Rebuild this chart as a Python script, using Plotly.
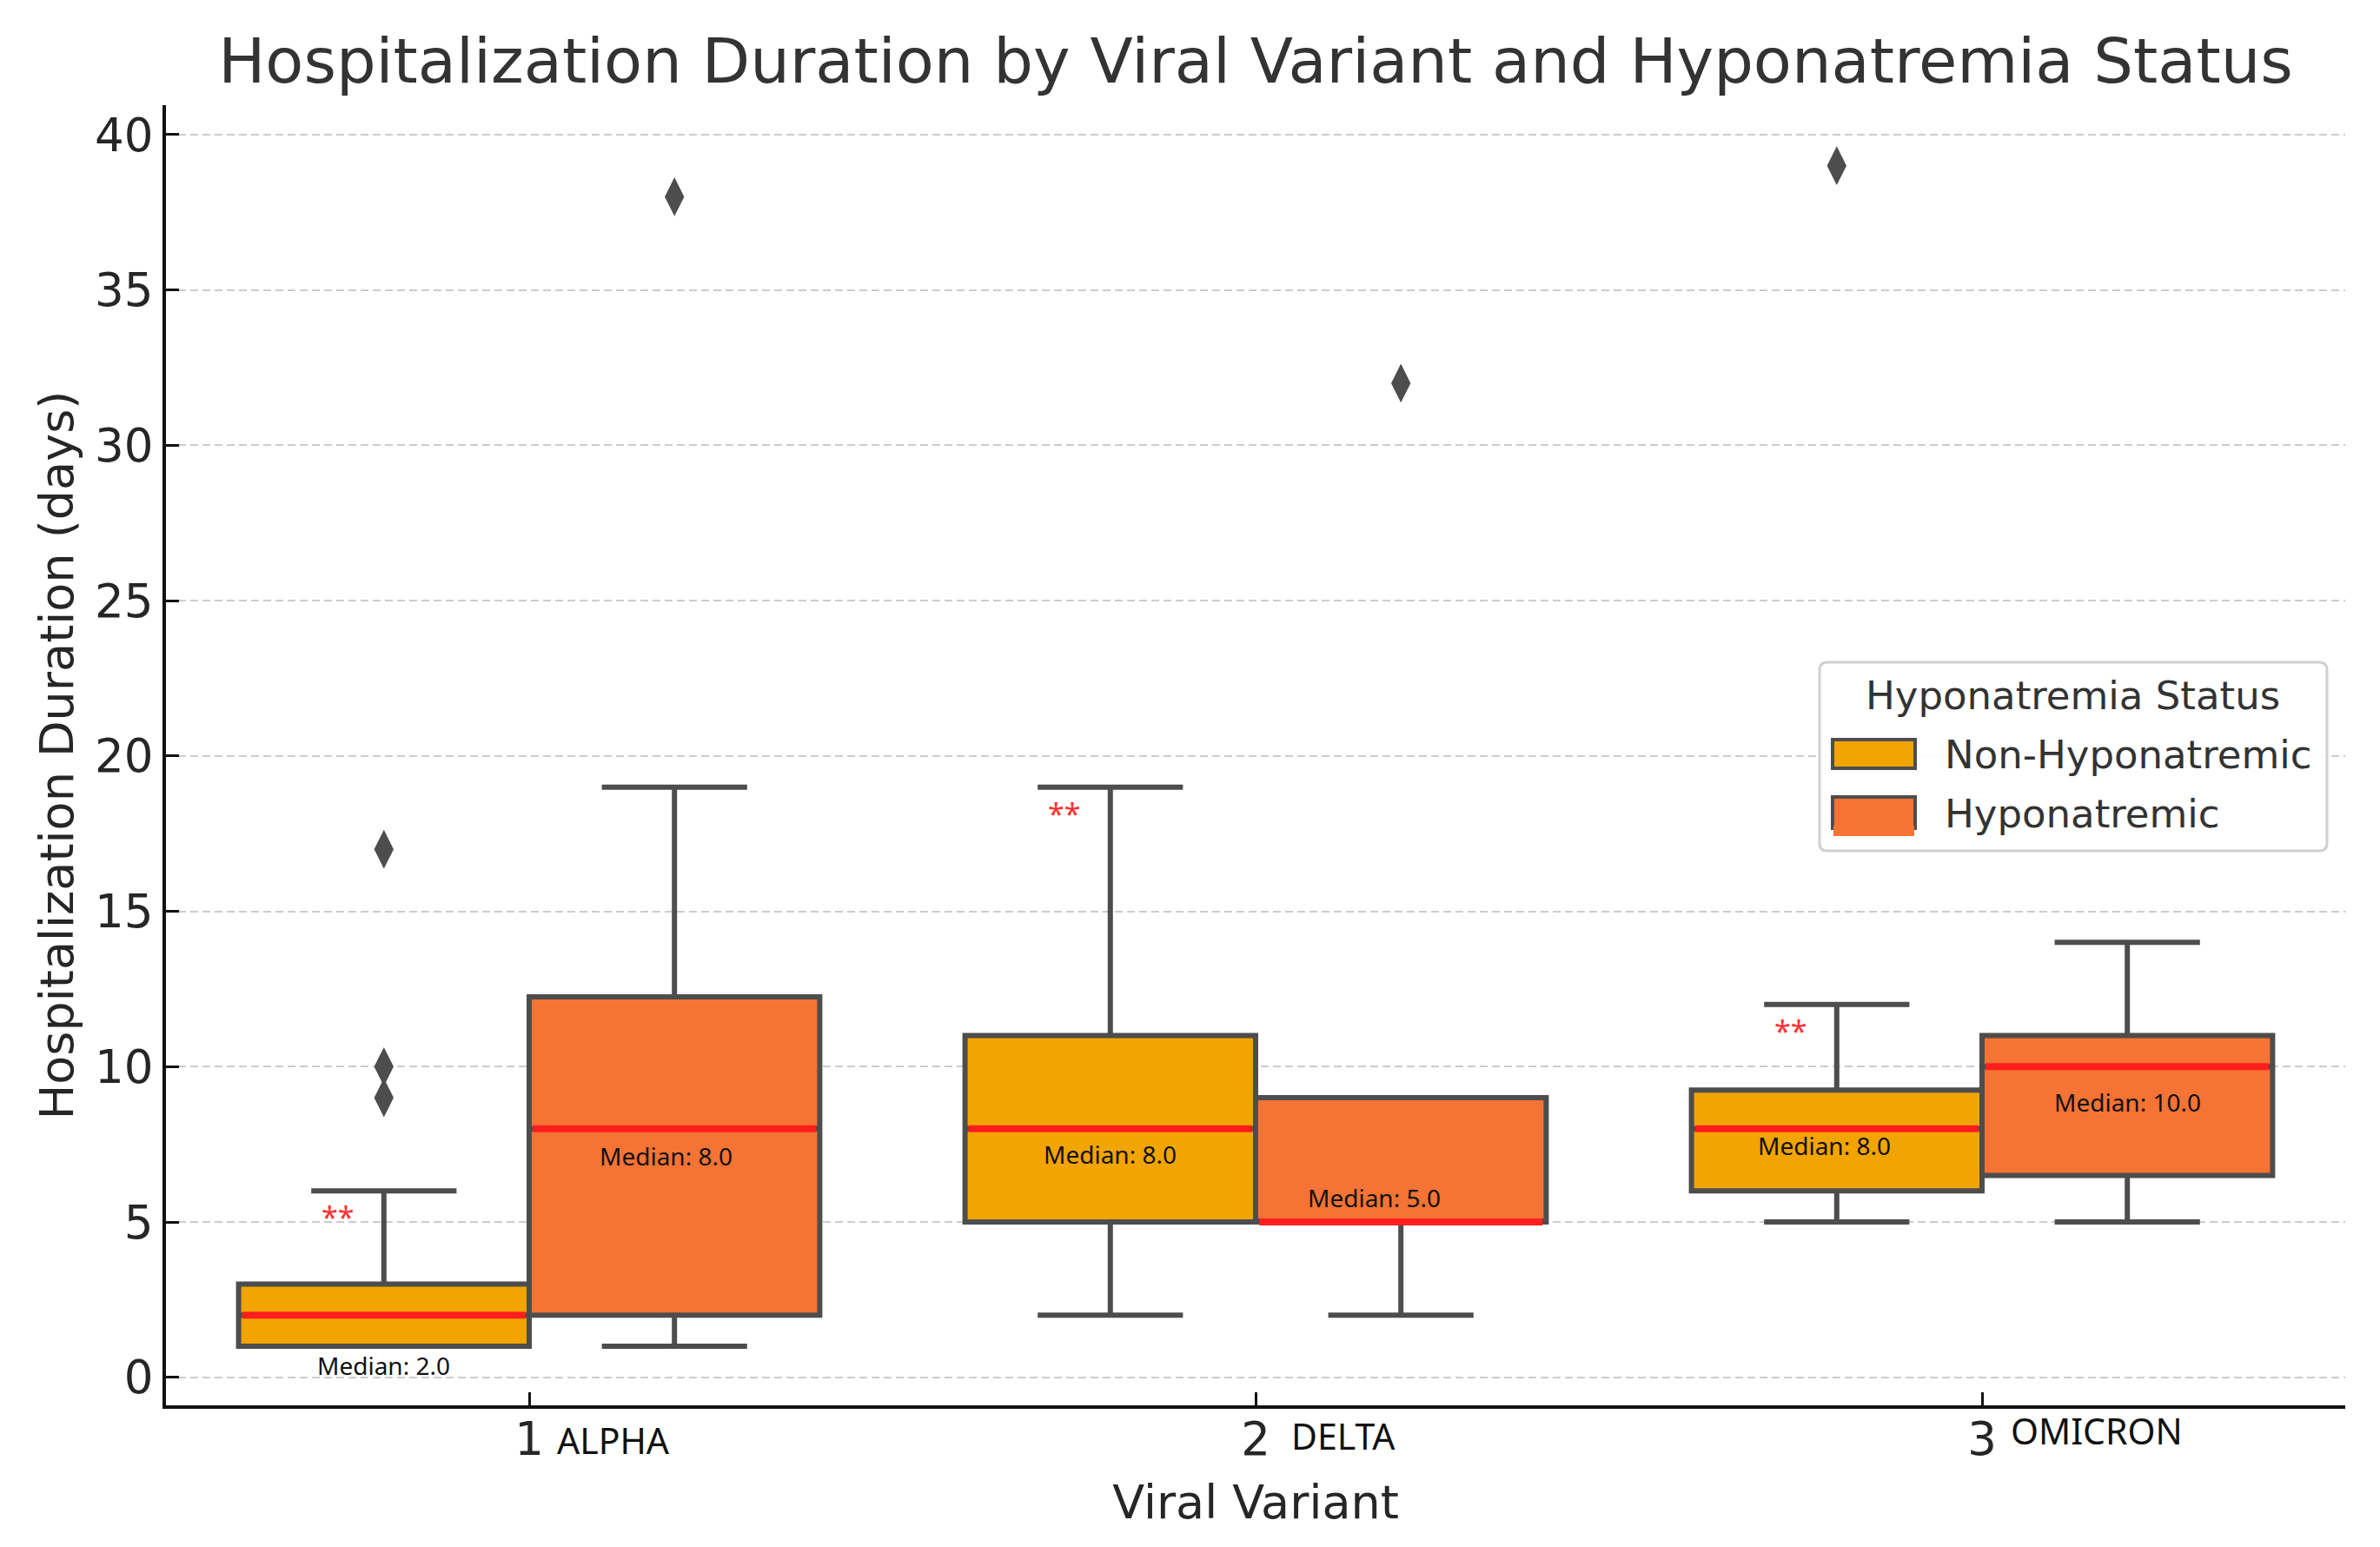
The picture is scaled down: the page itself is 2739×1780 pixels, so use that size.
import plotly.graph_objects as go

# ---------------- data ----------------
variants = ["ALPHA", "DELTA", "OMICRON"]
variant_numbers = ["1", "2", "3"]
groups = ["Non-Hyponatremic", "Hyponatremic"]

non_q1 = [1, 5, 6]
non_median = [2, 8, 8]
non_q3 = [3, 11, 9.25]
non_low = [1, 2, 5]
non_high = [6, 19, 12]
non_outliers = [[9, 10, 17], [], [39]]

hyp_q1 = [2, 5, 6.5]
hyp_median = [8, 5, 10]
hyp_q3 = [12.25, 9, 11]
hyp_low = [1, 2, 5]
hyp_high = [19, 9, 14]
hyp_outliers = [[38], [32], []]

significance = ["**", "**", "**"]

# ---------------- style / geometry ----------------
OFF = 8                      # default page margin of the html body
W, H = 2739 - 2 * OFF, 1780 - 2 * OFF
PL, PR, PT, PB = 191, 2699, 121, 1617   # plot area on the page (px)
ML, MT = PL - OFF, PT - OFF
MR, MB = OFF + W - PR, OFF + H - PB
PW, PH = PR - PL, PB - PT

colors = {"Non-Hyponatremic": "#F2A400", "Hyponatremic": "#F57334"}
edge = "#4D4D4D"
median_red = "#FF1E1E"
text_dark = "#262626"
box_w = 0.4
offsets = {"Non-Hyponatremic": -0.2, "Hyponatremic": 0.2}
median_label_shift = {
    "Non-Hyponatremic": [(0, -58), (0, -29), (-14, -19)],
    "Hyponatremic": [(-10, -31), (-31, 28), (0, -41)],
}
variant_label_shift = [(30, 0), (39, 5), (31, 11)]


def px_x(px):
    return (px - PL) / PW


def px_y(py):
    return (PB - py) / PH


stats = {
    "Non-Hyponatremic": (non_q1, non_median, non_q3, non_low, non_high, non_outliers),
    "Hyponatremic": (hyp_q1, hyp_median, hyp_q3, hyp_low, hyp_high, hyp_outliers),
}

fig = go.Figure()
annotations = []
shapes = []

for g in groups:
    q1, med, q3, lo, hi, outs = stats[g]
    pos = [i + offsets[g] for i in range(len(variants))]
    fig.add_trace(go.Box(
        x=pos, q1=q1, median=med, q3=q3, lowerfence=lo, upperfence=hi,
        width=box_w, whiskerwidth=0.5, boxpoints=False,
        fillcolor=colors[g], line=dict(color=edge, width=6),
        name=g, showlegend=False, hoverinfo="skip",
    ))

for g in groups:
    q1, med, q3, lo, hi, outs = stats[g]
    pos = [i + offsets[g] for i in range(len(variants))]
    mx, my = [], []
    for p, m in zip(pos, med):
        mx += [p - box_w / 2 + 0.005, p + box_w / 2 - 0.005, None]
        my += [m, m, None]
    fig.add_trace(go.Scatter(x=mx, y=my, mode="lines",
                             line=dict(color=median_red, width=8),
                             showlegend=False, hoverinfo="skip"))
    ox, oy = [], []
    for p, o in zip(pos, outs):
        ox += [p] * len(o)
        oy += list(o)
    fig.add_trace(go.Scatter(x=ox, y=oy, mode="markers",
                             marker=dict(symbol="diamond-tall", size=32, color=edge),
                             showlegend=False, hoverinfo="skip"))
    for k, (p, m) in enumerate(zip(pos, med)):
        dx, dy = median_label_shift[g][k]
        annotations.append(dict(
            x=p, y=m, xref="x", yref="y", text=f"Median: {m:.1f}",
            showarrow=False, xshift=dx, yshift=dy,
            font=dict(family="Noto Sans", size=28, color="#111111"),
            xanchor="center", yanchor="middle"))

# significance stars (non-hyponatremic boxes)
for i, s in enumerate(significance):
    p = i + offsets["Non-Hyponatremic"]
    annotations.append(dict(
        x=p, y=non_high[i], xref="x", yref="y", text=s, showarrow=False,
        xshift=-53, yshift=-30,
        font=dict(family="Noto Sans", size=34, color="#FF3030"),
        xanchor="center", yanchor="middle"))

# variant names next to tick numbers
for i, v in enumerate(variants):
    dx, dy = variant_label_shift[i]
    annotations.append(dict(
        x=i, y=0, xref="x", yref="paper", text=v, showarrow=False,
        xshift=dx, yshift=-40 + dy,
        font=dict(family="Noto Sans", size=41, color="#111111"),
        xanchor="left", yanchor="middle"))

# ---------------- legend (drawn) ----------------
lx0, lx1, ly0, ly1, rad = 2094, 2678, 762, 979, 9
path = (f"M{px_x(lx0 + rad)},{px_y(ly0)} L{px_x(lx1 - rad)},{px_y(ly0)} "
        f"Q{px_x(lx1)},{px_y(ly0)} {px_x(lx1)},{px_y(ly0 + rad)} "
        f"L{px_x(lx1)},{px_y(ly1 - rad)} Q{px_x(lx1)},{px_y(ly1)} {px_x(lx1 - rad)},{px_y(ly1)} "
        f"L{px_x(lx0 + rad)},{px_y(ly1)} Q{px_x(lx0)},{px_y(ly1)} {px_x(lx0)},{px_y(ly1 - rad)} "
        f"L{px_x(lx0)},{px_y(ly0 + rad)} Q{px_x(lx0)},{px_y(ly0)} {px_x(lx0 + rad)},{px_y(ly0)} Z")
shapes.append(dict(type="path", xref="paper", yref="paper", path=path,
                   fillcolor="rgba(255,255,255,0.9)", line=dict(color="#D0D0D0", width=3),
                   layer="above"))
annotations.append(dict(x=px_x(2385), y=px_y(800), xref="paper", yref="paper",
                        text="Hyponatremia Status", showarrow=False,
                        xanchor="center", yanchor="middle",
                        font=dict(family="DejaVu Sans", size=45, color="#333333")))
legend_rows = [  # (icon top, icon bottom, text center) in page px
    (851, 884, 868),
    (917, 953, 936),
]
for g, (it, ib, tc) in zip(groups, legend_rows):
    shapes.append(dict(type="rect", xref="paper", yref="paper",
                       x0=px_x(2109), x1=px_x(2204), y0=px_y(ib), y1=px_y(it),
                       fillcolor=colors[g], line=dict(color=edge, width=4), layer="above"))
    annotations.append(dict(x=px_x(2236), y=px_y(tc), xref="paper", yref="paper",
                            text=g, showarrow=False, xanchor="left", yanchor="middle",
                            font=dict(family="DejaVu Sans", size=45, color="#333333")))
shapes.append(dict(type="rect", xref="paper", yref="paper",
                   x0=px_x(2110), x1=px_x(2203), y0=px_y(962), y1=px_y(950),
                   fillcolor=colors["Hyponatremic"], line=dict(width=0), layer="above"))

fig.update_layout(
    width=W, height=H,
    margin=dict(l=ML, r=MR, t=MT, b=MB),
    paper_bgcolor="white", plot_bgcolor="white",
    font=dict(family="DejaVu Sans", color=text_dark),
    title=dict(text="Hospitalization Duration by Viral Variant and Hyponatremia Status",
               x=0.5, xref="paper", xanchor="center",
               y=1 - 62 / H, yref="container", yanchor="middle",
               font=dict(family="DejaVu Sans", size=72, color="#333333")),
    boxmode="overlay",
    showlegend=False,
    annotations=annotations,
    shapes=shapes,
)

fig.update_xaxes(
    range=[-0.5, 2.5], tickmode="array", tickvals=list(range(len(variants))),
    ticktext=variant_numbers, tickfont=dict(size=53, color=text_dark),
    showgrid=False, zeroline=False,
    showline=True, linecolor="#111111", linewidth=4,
    ticks="inside", ticklen=15, tickwidth=3, tickcolor="#111111",
    ticklabelstandoff=-11,
    title=dict(text="Viral Variant", font=dict(size=54, color=text_dark), standoff=26),
)
fig.update_yaxes(
    range=[-0.9, 40.95], tickmode="linear", tick0=0, dtick=5,
    tickfont=dict(size=53, color=text_dark),
    showgrid=True, gridcolor="#CCCCCC", gridwidth=2, griddash="9px,5px",
    zeroline=False,
    showline=True, linecolor="#111111", linewidth=4,
    ticks="inside", ticklen=15, tickwidth=3, tickcolor="#111111",
    ticklabelstandoff=0,
    title=dict(text="Hospitalization Duration (days)", font=dict(size=54, color=text_dark), standoff=8),
)

fig.write_html("out.html")
